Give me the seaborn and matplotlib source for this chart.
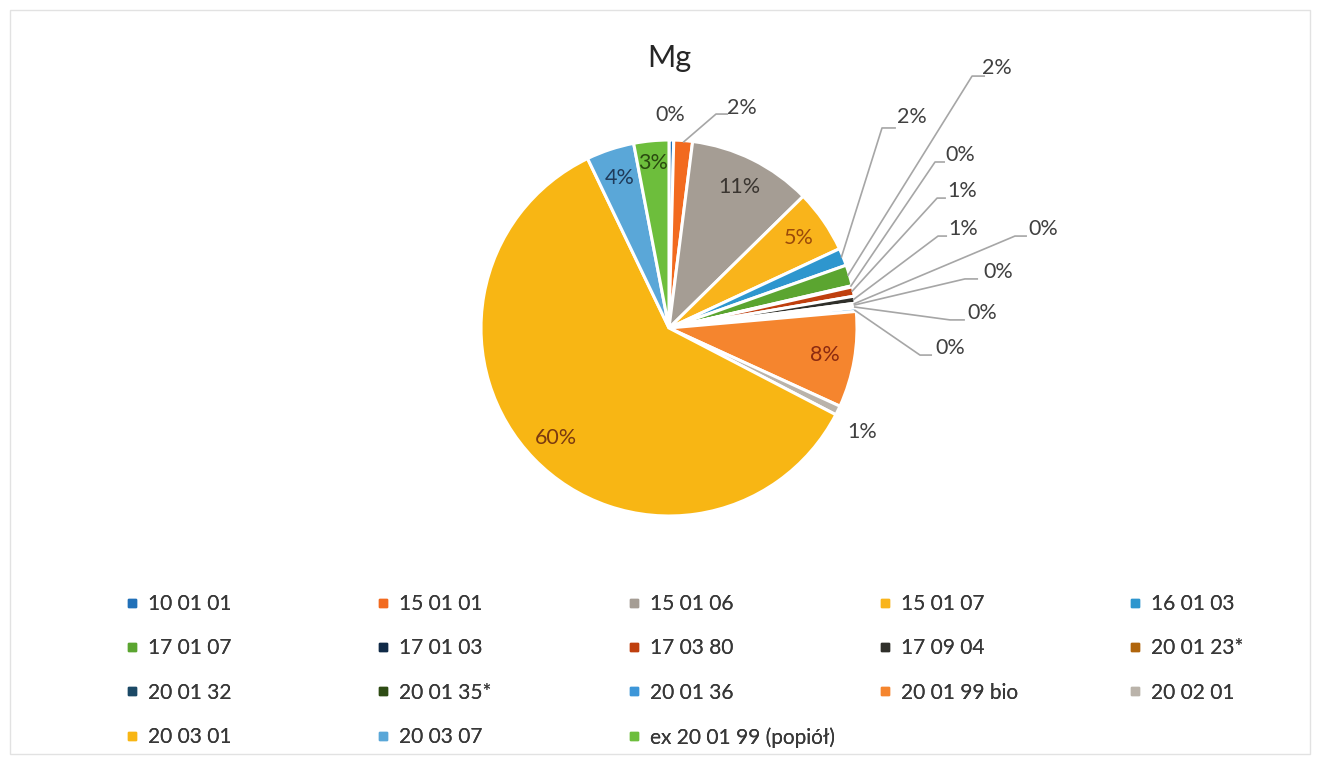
import numpy as np
import matplotlib
matplotlib.use("Agg")
import matplotlib.pyplot as plt
from matplotlib.lines import Line2D
from matplotlib.patches import Rectangle
import seaborn as sns

sns.set_theme(style="white")
plt.rcParams['font.family'] = ['Lato', 'DejaVu Sans']

# ---- data ----
categories = ["10 01 01", "15 01 01", "15 01 06", "15 01 07", "16 01 03",
              "17 01 07", "17 01 03", "17 03 80", "17 09 04", "20 01 23*",
              "20 01 32", "20 01 35*", "20 01 36", "20 01 99 bio", "20 02 01",
              "20 03 01", "20 03 07", "ex 20 01 99 (popiół)"]
values = [0.4, 1.6, 10.6, 5.4, 1.5,
          1.8, 0.1, 0.8, 0.6, 0.1,
          0.1, 0.2, 0.3, 8.2, 0.8,
          60.0, 4.1, 3.0]
colors = ["#2170B8", "#F26A1F", "#A59D94", "#F9B41B", "#2E96CE",
          "#5BA530", "#102A47", "#BF3F0E", "#2F2F2A", "#B0650C",
          "#1B4966", "#2E4C14", "#3D96D8", "#F5852E", "#BAB3AA",
          "#F8B614", "#5AA7D8", "#6DBE3C"]
title = "Mg"

# ---- layout (styling only) ----
inside = {2: "#3A3530", 3: "#9A4A0A", 13: "#8B2A10", 15: "#7A3A10",
          16: "#1F3A5A", 17: "#2A4A10"}
# outside label layout: (text xy, bend xy, horizontal-end xy) in pie-radius units
outside = {
    0: ((0.005, 1.133), None, None),
    1: ((0.388, 1.170), (0.25, 1.138), (0.314, 1.138)),
    4: ((1.293, 1.122), (1.133, 1.064), (1.207, 1.064)),
    5: ((1.745, 1.383), (1.612, 1.340), (1.681, 1.340)),
    6: ((1.548, 0.920), (1.415, 0.883), (1.468, 0.883)),
    7: ((1.559, 0.729), (1.426, 0.691), (1.473, 0.691)),
    8: ((1.564, 0.527), (1.431, 0.489), (1.479, 0.489)),
    9: ((1.989, 0.527), (1.840, 0.489), (1.904, 0.489)),
    10: ((1.750, 0.298), (1.574, 0.261), (1.644, 0.261)),
    11: ((1.665, 0.080), (1.495, 0.043), (1.574, 0.043)),
    12: ((1.495, -0.106), (1.335, -0.144), (1.399, -0.144)),
    14: ((1.027, -0.553), None, None),
}

W, H = 1320, 762
fig = plt.figure(figsize=(W / 100, H / 100), dpi=100)
fig.patch.set_facecolor("white")

cx, cy, half = 669, 328, 200
ax = fig.add_axes([(cx - half) / W, 1 - (cy + half) / H, 2 * half / W, 2 * half / H])
r_px = 188
lim = half / r_px

wedges, _ = ax.pie(values, colors=colors, startangle=90, counterclock=False,
                   radius=1.0, wedgeprops=dict(edgecolor="white", linewidth=2.2))
ax.set_xlim(-lim, lim)
ax.set_ylim(-lim, lim)
ax.set_aspect("equal")
ax.axis("off")

total = sum(values)
for i, w in enumerate(wedges):
    pct = f"{round(values[i] / total * 100):.0f}%"
    mid = np.deg2rad((w.theta1 + w.theta2) / 2)
    if i in inside:
        rr = 0.84 if i != 17 else 0.88
        ax.text(rr * np.cos(mid), rr * np.sin(mid), pct, ha="center", va="center",
                fontsize=15.5, color=inside[i])
    elif i in outside:
        (tx, ty), bend, hend = outside[i]
        if bend is not None:
            sx, sy = 0.99 * np.cos(mid), 0.99 * np.sin(mid)
            ax.plot([sx, bend[0], hend[0]], [sy, bend[1], hend[1]],
                    color="#A6A6A6", lw=1.2, clip_on=False, solid_capstyle="butt")
        ax.text(tx, ty, pct, ha="center", va="center", fontsize=15.5,
                color="#404040", clip_on=False)

fig.text(cx / W, 1 - 58 / H, title, ha="center", va="center", fontsize=22,
         color="#262626")

# ---- legend: 5 columns, row-major ----
ncol = 5
col_x = [125, 376, 627, 878, 1128]
top_y = 594
for c in range(ncol):
    idx = list(range(c, len(categories), ncol))
    handles = [Line2D([], [], marker="s", linestyle="none", markersize=6,
                      markerfacecolor=colors[i], markeredgecolor=colors[i])
               for i in idx]
    leg = fig.legend(handles, [categories[i] for i in idx], loc="upper left",
                     bbox_to_anchor=(col_x[c] / W, 1 - top_y / H),
                     frameon=False, fontsize=15, handlelength=0.7,
                     handletextpad=0.4, labelspacing=1.17, borderpad=0,
                     borderaxespad=0, labelcolor="#383838")
    fig.add_artist(leg)

# faint frame of the chart area
fig.add_artist(Rectangle((10 / W, 8 / H), 1300 / W, 744 / H, transform=fig.transFigure,
                         fill=False, edgecolor="#E2E2E2", lw=1))

fig.savefig("out.png", dpi=100, facecolor="white")
